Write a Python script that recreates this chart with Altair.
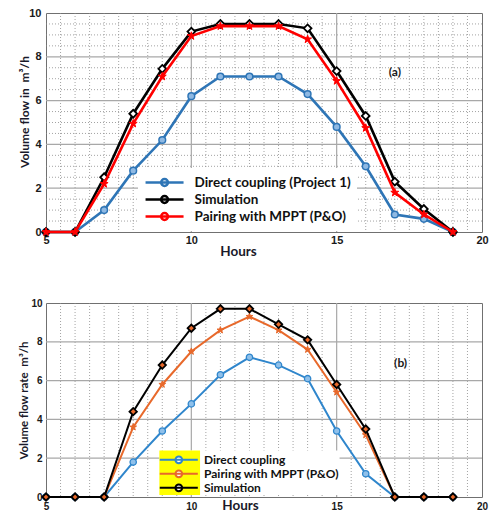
import altair as alt
import pandas as pd

hours = [5, 6, 7, 8, 9, 10, 11, 12, 13, 14, 15, 16, 17, 18, 19]

# Panel (a)
a_names = ["Direct coupling (Project 1)", "Simulation", "Pairing with MPPT (P&O)"]
a_direct = [0, 0, 1.0, 2.8, 4.2, 6.2, 7.1, 7.1, 7.1, 6.3, 4.8, 3.0, 0.8, 0.6, 0]
a_sim = [0, 0, 2.5, 5.4, 7.45, 9.15, 9.5, 9.5, 9.5, 9.3, 7.35, 5.3, 2.3, 1.05, 0]
a_mppt = [0, 0, 2.2, 4.95, 7.1, 8.95, 9.4, 9.4, 9.4, 8.8, 6.9, 4.75, 1.8, 0.8, 0]

# Panel (b)
b_names = ["Direct coupling", "Pairing with MPPT (P&O)", "Simulation"]
b_direct = [0, 0, 0, 1.8, 3.4, 4.8, 6.3, 7.2, 6.8, 6.1, 3.4, 1.2, 0, 0, 0]
b_mppt = [0, 0, 0, 3.6, 5.8, 7.5, 8.6, 9.3, 8.6, 7.6, 5.4, 3.2, 0, 0, 0]
b_sim = [0, 0, 0, 4.4, 6.8, 8.7, 9.7, 9.7, 8.9, 8.1, 5.8, 3.5, 0, 0, 0]

x_ticks = [5, 10, 15, 20]
y_ticks = [0, 2, 4, 6, 8, 10]
x_minor = [5.5, 6, 6.5, 7, 7.5, 8, 8.5, 9, 9.5, 10.5, 11, 11.5, 12, 12.5, 13,
           13.5, 14, 14.5, 15.5, 16, 16.5, 17, 17.5, 18, 18.5, 19, 19.5]
x_major = [10, 15]
y_major = [2, 4, 6, 8]
y_minor_a = [0.5, 1, 1.5, 2.5, 3, 3.5, 4.5, 5, 5.5, 6.5, 7, 7.5, 8.5, 9, 9.5]

tag_a = {"x": [17.0], "y": [7.3], "t": ["(a)"]}
tag_b = {"x": [17.2], "y": [6.9], "t": ["(b)"]}

b_white_x = [8.9, 15.1]
b_yellow_x = [8.9, 10.3]
b_box_y = [0.1, 2.4]

STAR = ("M0,-1L0.24,-0.33L0.95,-0.31L0.38,0.12L0.59,0.81L0,0.4L-0.59,0.81"
        "L-0.38,0.12L-0.95,-0.31L-0.24,-0.33Z")
LEG_PATH = ("M-1.3,0L8.2,0M4.3,0A0.85,0.85,0,1,1,2.6,0A0.85,0.85,0,1,1,4.3,0")


def long_df(names, series):
    rows = []
    for n, vals in zip(names, series):
        for h, v in zip(hours, vals):
            rows.append({"hour": h, "flow": v, "series": n})
    return pd.DataFrame(rows)


def panel(names, series, colors, markers, w, h, y_minor, legend, ax_x, ax_y,
          tag, boxes, stroke_w):
    df = long_df(names, series)
    xs = alt.Scale(domain=[5, 20], nice=False, zero=False)
    ys = alt.Scale(domain=[0, 10], nice=False)

    def X(f):
        return alt.X(f, type="quantitative", scale=xs, axis=ax_x)

    def Y(f):
        return alt.Y(f, type="quantitative", scale=ys, axis=ax_y)

    layers = []
    layers.append(alt.Chart(pd.DataFrame({"v": x_minor})).mark_rule(
        color="#8c8c8c", strokeDash=[1, 2], strokeWidth=0.8).encode(x=X("v")))
    if y_minor:
        layers.append(alt.Chart(pd.DataFrame({"v": y_minor})).mark_rule(
            color="#8c8c8c", strokeDash=[1, 2], strokeWidth=0.8).encode(y=Y("v")))
    layers.append(alt.Chart(pd.DataFrame({"v": x_major})).mark_rule(
        color="#a8a8a8", strokeWidth=1.2).encode(x=X("v")))
    layers.append(alt.Chart(pd.DataFrame({"v": y_major})).mark_rule(
        color="#a8a8a8", strokeWidth=1.2).encode(y=Y("v")))
    if boxes:
        for bx, col in boxes:
            bd = pd.DataFrame({"x": [bx[0]], "x2": [bx[1]],
                               "y": [b_box_y[0]], "y2": [b_box_y[1]]})
            layers.append(alt.Chart(bd).mark_rect(color=col, opacity=1).encode(
                x=X("x"), x2="x2", y=Y("y"), y2="y2"))

    color = alt.Color("series:N", scale=alt.Scale(domain=names, range=colors),
                      legend=legend)
    for n, mk in zip(names, markers):
        sub = alt.Chart(df).transform_filter(alt.datum.series == n)
        layers.append(sub.mark_line(strokeWidth=stroke_w).encode(
            x=X("hour"), y=Y("flow"), color=color))
        layers.append(sub.mark_point(
            shape=mk["shape"], filled=True, fill=mk["fill"], stroke=mk["stroke"],
            strokeWidth=mk["sw"], size=mk["size"], opacity=1).encode(
            x=X("hour"), y=Y("flow")))

    layers.append(alt.Chart(pd.DataFrame(tag)).mark_text(
        font="Lato", fontWeight="bold", fontSize=12, color="#1a1a1a").encode(
        x=X("x"), y=Y("y"), text="t:N"))

    return alt.layer(*layers).properties(width=w, height=h)


axis_common = dict(grid=False, ticks=False, tickSize=0, domain=False,
                   labelFont="Liberation Sans", labelFontWeight="bold",
                   labelColor="#1a1a1a", labelFlush=False,
                   titleFont="Lato", titleFontWeight="bold", titleColor="#1a1a2a")

ax_xa = alt.Axis(values=x_ticks, title="Hours", labelPadding=2, labelFontSize=11,
                 titleFontSize=13.5, titleX=192, titleY=23,
                 titleBaseline="alphabetic", **axis_common)
ax_ya = alt.Axis(values=y_ticks, title="Volume flow in\u00a0\u00a0m³/h", labelPadding=5,
                 labelFontSize=11, titleFontSize=12, titleX=-22, titleY=98.5,
                 titleBaseline="middle", **axis_common)
ax_xb = alt.Axis(values=x_ticks, title="Hours", labelPadding=4, labelFontSize=10,
                 titleFontSize=13.5, titleX=194, titleY=12,
                 titleBaseline="alphabetic", **axis_common)
ax_yb = alt.Axis(values=y_ticks, title="Volume flow rate\u00a0\u00a0m³/h", labelPadding=4,
                 labelFontSize=10, titleFontSize=11.5, titleX=-22, titleY=97,
                 titleBaseline="middle", **axis_common)

leg_a = alt.Legend(title=None, orient="none", legendX=92, legendY=155,
                   direction="vertical", symbolType=LEG_PATH, symbolSize=64,
                   symbolStrokeWidth=2.5, symbolFillColor="white",
                   labelFont="Lato", labelFontWeight="bold", labelFontSize=13.5,
                   labelColor="#111111", labelOffset=37, labelLimit=400,
                   clipHeight=17, rowPadding=0, padding=6, fillColor="white")
leg_b = alt.Legend(title=None, orient="none", legendX=113, legendY=150,
                   direction="vertical", symbolType=LEG_PATH, symbolSize=64,
                   symbolStrokeWidth=2, symbolFillColor="white",
                   labelFont="Lato", labelFontWeight="bold", labelFontSize=12,
                   labelColor="#111111", labelOffset=33, labelLimit=400,
                   clipHeight=13.6, rowPadding=0, padding=0)

blue_a = "#2e75b6"
mk_a = [
    {"shape": "circle", "fill": "#8fb9e3", "stroke": blue_a, "sw": 1.5, "size": 45},
    {"shape": "diamond", "fill": "white", "stroke": "black", "sw": 1.8, "size": 60},
    {"shape": STAR, "fill": "#ff0000", "stroke": "#ff0000", "sw": 1, "size": 70},
]
blue_b = "#2f86cc"
orange_b = "#e8692b"
mk_b = [
    {"shape": "circle", "fill": "#8fc0ea", "stroke": blue_b, "sw": 1.3, "size": 40},
    {"shape": STAR, "fill": orange_b, "stroke": orange_b, "sw": 1, "size": 50},
    {"shape": "diamond", "fill": orange_b, "stroke": "black", "sw": 1.8, "size": 55},
]

pa = panel(a_names, [a_direct, a_sim, a_mppt], [blue_a, "#000000", "#ff0000"], mk_a,
           436, 219, y_minor_a, leg_a, ax_xa, ax_ya, tag_a, None, 2.6)
pb = panel(b_names, [b_direct, b_mppt, b_sim], [blue_b, orange_b, "#000000"], mk_b,
           436, 194, None, leg_b, ax_xb, ax_yb, tag_b,
           [(b_white_x, "white"), (b_yellow_x, "#ffff00")], 2.0)

chart = alt.vconcat(pa, pb, spacing=39).resolve_scale(
    x="independent", y="independent", color="independent"
).properties(
    padding={"left": 9, "top": -2, "right": 0, "bottom": 0}
).configure_view(stroke="#707070", strokeWidth=1)

chart.save("out.html", embed_options={"renderer": "svg", "actions": False})
